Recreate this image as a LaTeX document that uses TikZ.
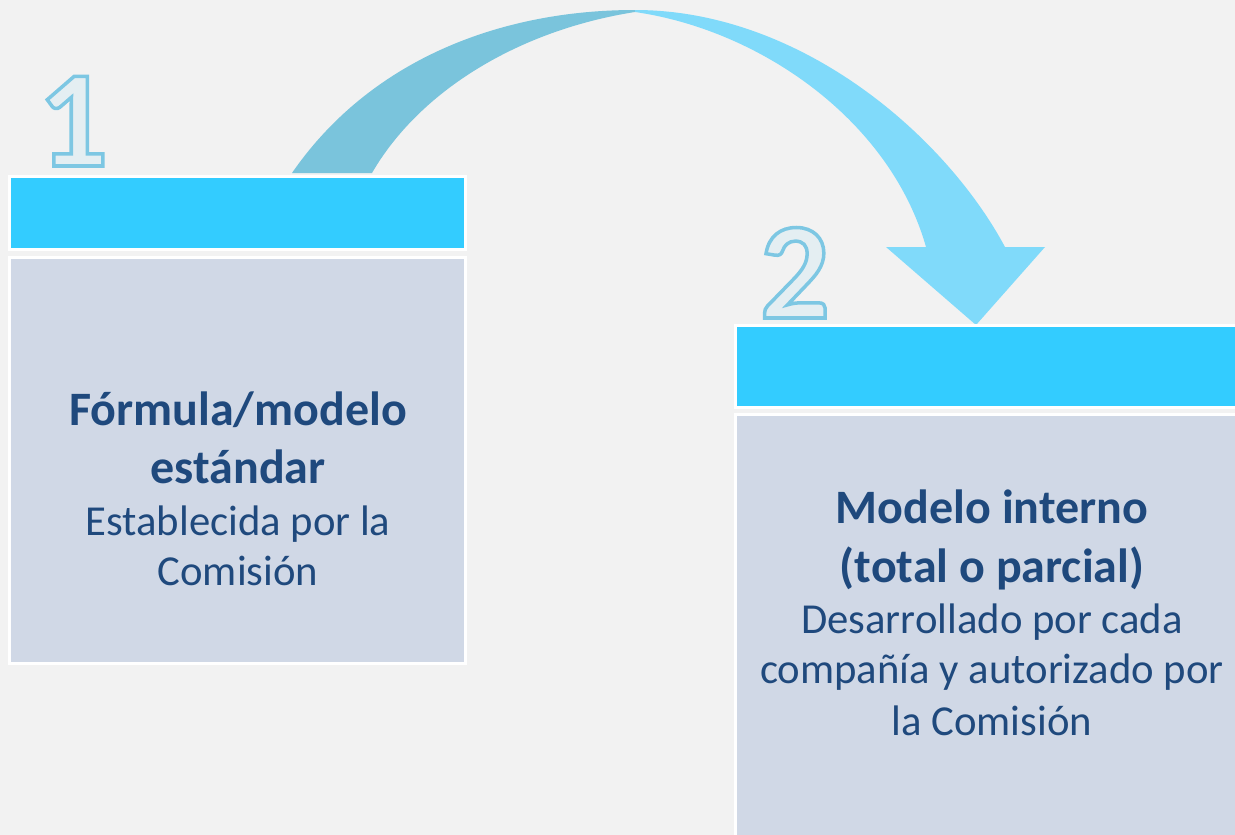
\documentclass[tikz,border=0pt]{standalone}
\usepackage{fontspec}
\setmainfont{Carlito}
\definecolor{bg}{HTML}{F2F2F2}
\definecolor{hdr}{HTML}{33CCFF}
\definecolor{bodyc}{HTML}{D0D8E6}
\definecolor{txt}{HTML}{1F497D}
\definecolor{arrowdark}{HTML}{7AC4DC}
\definecolor{arrowlight}{HTML}{80DAFA}
\definecolor{numfill}{HTML}{E4EEF2}
\newcommand{\outlinedigit}[1]{\textcolor{numfill}{\special{pdf:literal direct 0.49 0.78 0.89 RG 2 Tr 3.5 w}#1\special{pdf:literal direct 0 Tr 1 w}}}
\begin{document}
\begin{tikzpicture}[x=1pt,y=-1pt,
  hdrbox/.style={draw=white,line width=3pt,fill=hdr,inner sep=0pt},
  bodybox/.style={draw=white,line width=3pt,fill=bodyc,inner sep=0pt},
  boldline/.style={text=txt,anchor=base,font=\fontsize{48}{57}\selectfont\bfseries,inner sep=0pt},
  regline/.style={text=txt,anchor=base,font=\fontsize{42.7}{51}\selectfont,inner sep=0pt},
  numlabel/.style={anchor=base,font=\fontsize{138}{160}\selectfont\bfseries,inner sep=0pt}]
\clip (0,0) rectangle (1235,835);
\fill[bg] (0,0) rectangle (1235,835);
% arrow
\fill[arrowdark] (292,173) .. controls (370,60) and (500,10) .. (635,10)
   -- (635,12) .. controls (520,30) and (420,90) .. (372,173) -- cycle;
\fill[arrowlight] (635,10) .. controls (800,10) and (945,135) .. (1005,247)
   -- (1045,247) -- (976,325) -- (886,247) -- (926,247)
   .. controls (890,120) and (760,30) .. (635,12) -- cycle;
% boxes
\node[hdrbox,minimum width=456pt,minimum height=73pt] (h1) at (237.5,213) {};
\node[bodybox,minimum width=456pt,minimum height=406pt] (b1) at (237.5,460.5) {};
\node[hdrbox,minimum width=503pt,minimum height=82pt] (h2) at (987,366.5) {};
\node[bodybox,minimum width=503pt,minimum height=424pt] (b2) at (987,626.5) {};
% numbers
\node[numlabel] (n1) at (73,166) {\outlinedigit{1}};
\node[numlabel] (n2) at (795,318) {\outlinedigit{2}};
% text box 1
\node[boldline] (t11) at (238,425) {Fórmula/modelo};
\node[boldline] (t12) at (238,483) {estándar};
\node[regline] (t13) at (238,535) {Establecida por la};
\node[regline] (t14) at (238,585) {Comisión};
% text box 2
\node[boldline] (t21) at (992,523) {Modelo interno};
\node[boldline] (t22) at (992,582) {(total o parcial)};
\node[regline] (t23) at (992,633) {Desarrollado por cada};
\node[regline] (t24) at (992,683) {compañía y autorizado por};
\node[regline] (t25) at (992,735) {la Comisión};
\end{tikzpicture}
\end{document}
